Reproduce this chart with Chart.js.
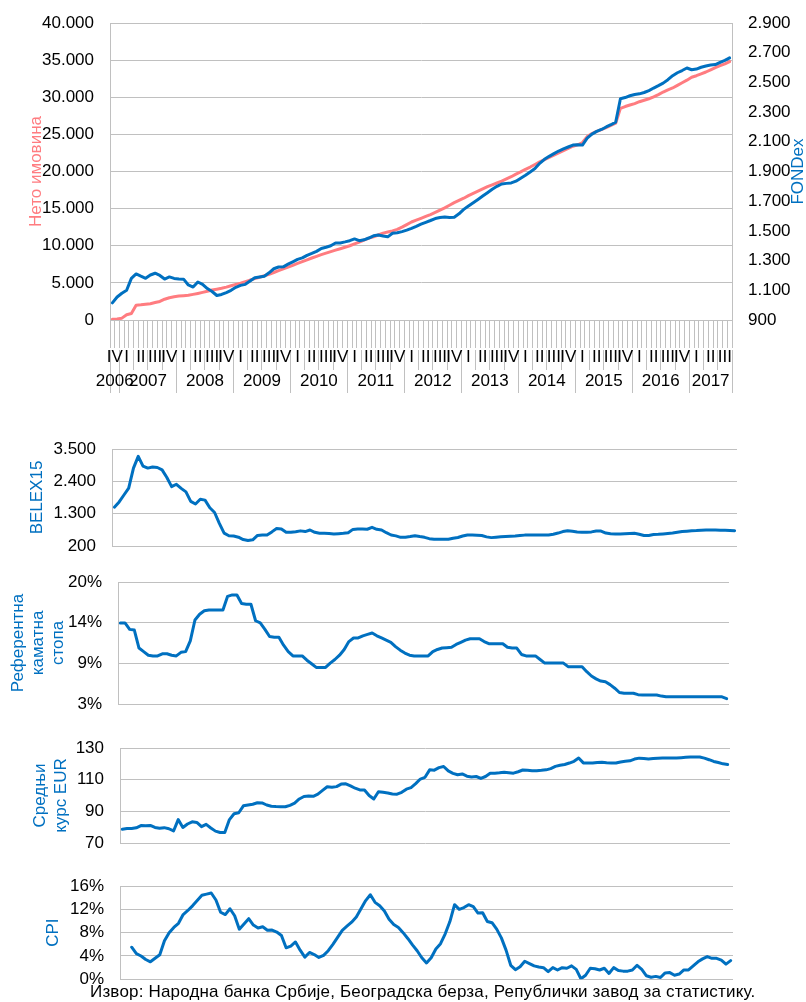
<!DOCTYPE html>
<html><head><meta charset="utf-8">
<script src="https://cdn.jsdelivr.net/npm/chart.js@4.4.1/dist/chart.umd.min.js"></script>
<style>
html,body{margin:0;padding:0;background:#fff;}
#wrap{position:relative;width:806px;height:1002px;overflow:hidden;background:#fff;}
canvas{position:absolute;left:0;}
#src{position:absolute;left:90px;top:983px;font-family:"Liberation Sans",Arial,sans-serif;font-size:17px;letter-spacing:0.18px;line-height:17px;color:#000;white-space:nowrap;}
</style></head><body>
<div id="wrap">
<canvas id="c1" width="806" height="400" style="top:0px"></canvas>
<canvas id="c2" width="806" height="140" style="top:420px"></canvas>
<canvas id="c3" width="806" height="155" style="top:565px"></canvas>
<canvas id="c4" width="806" height="135" style="top:725px"></canvas>
<canvas id="c5" width="806" height="137" style="top:865px"></canvas>
<div id="src">Извор: Народна банка Србије, Београдска берза, Републички завод за статистику.</div>
</div>
<script>
// ---------- categories ----------
const START_YEAR = 2006, START_MONTH = 11, N_MONTHS = 131;
const quarterNames = ['I','II','III','IV'];

// ---------- series (monthly, Nov 2006 – Sep 2017) ----------
const netAssets = [
100,150,250,700,880,2000,2050,2120,2200,2350,
2500,2800,3000,3120,3220,3280,3330,3450,3580,3720,
3870,4030,4150,4280,4430,4620,4800,4970,5170,5380,
5570,5760,5960,6150,6400,6650,6880,7120,7370,7620,
7870,8110,8350,8580,8800,9000,9210,9410,9600,9800,
10000,10260,10500,10760,11030,11200,11450,11700,11850,12000,
12200,12500,12850,13200,13450,13700,13950,14200,14500,14800,
15100,15450,15800,16100,16400,16750,17050,17350,17650,17950,
18200,18450,18700,19000,19300,19650,19950,20300,20600,20950,
21300,21600,21900,22200,22500,22800,23100,23400,23600,23900,
24700,25100,25400,25650,25900,26200,26500,28500,28750,28950,
29150,29400,29600,29800,30050,30350,30700,31000,31250,31600,
31950,32300,32700,32900,33150,33400,33700,34000,34250,34500,
34800];

const fondex = [
1015,1055,1080,1100,1180,1210,1195,1181,1203,1215,
1200,1176,1190,1180,1176,1175,1136,1122,1156,1140,
1112,1092,1065,1072,1085,1100,1120,1133,1140,1162,
1185,1190,1195,1218,1245,1257,1258,1276,1292,1308,
1318,1335,1348,1362,1382,1390,1400,1419,1419,1426,
1434,1446,1434,1440,1452,1467,1472,1466,1460,1484,
1488,1495,1505,1517,1530,1545,1558,1570,1583,1590,
1594,1590,1592,1615,1645,1668,1690,1712,1735,1757,
1780,1800,1816,1820,1823,1835,1855,1875,1897,1920,
1955,1982,2002,2020,2038,2052,2065,2078,2080,2078,
2125,2152,2170,2183,2200,2215,2232,2390,2398,2410,
2418,2423,2432,2445,2462,2478,2495,2518,2545,2565,
2580,2597,2585,2590,2602,2610,2617,2620,2635,2648,
2665];

const belex15 = [
1520,1700,1935,2170,2850,3250,2920,2850,2890,2870,
2790,2530,2220,2300,2160,2040,1720,1630,1790,1760,
1500,1340,970,640,550,540,500,420,385,410,
560,574,574,680,795,780,665,665,685,715,
690,744,665,632,632,625,608,620,632,652,
765,778,775,770,836,768,744,652,574,545,
495,500,520,550,520,495,450,428,428,428,
430,465,490,540,574,570,566,555,510,485,
500,512,520,530,540,555,570,574,574,574,
574,574,600,640,690,720,700,680,665,665,
680,710,710,640,620,610,608,615,625,632,
600,555,560,590,598,610,625,640,665,690,
705,720,725,735,744,744,744,740,735,730,
720];

const refRate = [
14.3,14.3,13.4,13.3,10.8,10.3,9.8,9.7,9.7,10.0,
10.0,9.8,9.7,10.2,10.3,11.8,14.7,15.5,16.0,16.1,
16.1,16.1,16.1,18.0,18.2,18.2,17.0,16.9,16.9,14.6,
14.3,13.4,12.4,12.3,12.3,11.2,10.3,9.7,9.7,9.7,
9.1,8.6,8.1,8.1,8.1,8.7,9.2,9.8,10.6,11.7,
12.2,12.2,12.5,12.7,12.9,12.5,12.2,11.9,11.6,11.0,
10.5,10.1,9.8,9.7,9.7,9.7,9.7,10.3,10.6,10.8,
10.85,10.9,11.3,11.6,11.9,12.1,12.1,12.1,11.7,11.4,
11.4,11.4,11.4,10.9,10.8,10.8,9.9,9.7,9.7,9.7,
9.2,8.7,8.7,8.7,8.7,8.7,8.2,8.2,8.2,8.2,
7.5,6.9,6.5,6.2,6.1,5.7,5.2,4.6,4.5,4.5,
4.5,4.3,4.25,4.25,4.25,4.25,4.1,4.0,4.0,4.0,
4.0,4.0,4.0,4.0,4.0,4.0,4.0,4.0,4.0,4.0,
3.75];

const eurRate = [
78.7,79.1,79.1,79.6,81.0,80.9,81.1,79.8,79.3,79.7,
79.0,77.6,84.8,79.8,82.0,83.4,83.0,80.3,81.8,79.5,
77.5,76.6,76.6,84.8,88.5,89.1,93.5,94.0,94.5,95.4,
95.3,94.0,93.2,93.0,92.9,92.9,93.8,95.2,97.8,99.4,
99.7,99.5,100.9,103.2,105.5,105.2,105.6,107.2,107.4,106.1,
104.6,103.5,103.5,100.0,97.8,102.4,102.0,101.6,101.0,100.8,
102.0,104.0,105.0,107.5,110.4,111.5,116.2,116.0,117.6,118.3,
115.5,114.0,113.1,113.6,112.2,111.7,112.0,110.8,112.0,114.1,
114.1,114.3,114.7,114.4,114.1,115.0,116.1,116.0,115.7,115.7,
115.9,116.2,117.0,118.4,119.1,119.6,120.5,121.6,123.7,120.6,
120.5,120.5,120.9,121.0,120.7,120.5,120.5,121.2,121.6,121.9,
123.0,123.6,123.3,123.0,123.3,123.6,123.7,123.7,123.7,123.7,
123.9,124.1,124.3,124.3,124.3,123.6,122.6,121.5,120.8,120.0,
119.6];

const cpi = [
null,null,5.5,4.4,4.0,3.4,3.0,3.6,4.2,6.6,
8.0,8.9,9.6,11.1,11.8,12.6,13.5,14.4,14.6,14.8,
13.6,11.5,11.1,12.1,10.9,8.6,9.5,10.4,9.3,8.8,
9.0,8.4,8.45,8.1,7.5,5.4,5.7,6.4,5.0,3.8,
4.6,4.25,3.75,4.1,4.9,6.0,7.2,8.4,9.1,9.8,
10.7,12.1,13.5,14.5,13.2,12.6,11.7,10.3,9.4,8.9,
8.0,7.0,5.9,4.9,3.7,2.8,3.7,5.2,6.1,7.8,
9.9,12.8,12.0,12.3,12.8,12.45,11.35,11.4,9.9,9.7,
8.6,7.1,5.0,2.4,1.65,2.15,3.1,2.7,2.3,2.1,
2.0,1.3,2.0,1.6,2.0,1.9,2.3,1.7,0.1,0.7,
1.9,1.8,1.6,1.9,1.0,2.0,1.5,1.4,1.4,1.6,
2.4,1.7,0.6,0.35,0.5,0.3,1.1,1.15,0.7,0.9,
1.6,1.6,2.3,3.0,3.5,3.9,3.6,3.6,3.3,2.6,
3.2];

// ---------- tick values / labels ----------
const netTicks = [0,5000,10000,15000,20000,25000,30000,35000,40000];
const fondexTicks = [900,1100,1300,1500,1700,1900,2100,2300,2500,2700,2900];
const belexTicks = [200,1300,2400,3500];
const refTicks = [3, 3+17/3, 3+34/3, 20];
const refTickLabels = ['3%','9%','14%','20%'];
const eurTicks = [70,90,110,130];
const cpiTicks = [0,4,8,12,16];
const cpiTickLabels = ['0%','4%','8%','12%','16%'];

// ---------- helpers ----------
const FONT = '"Liberation Sans", Arial, Helvetica, sans-serif';
const FS = 17;
const GRID = '#c0c0c0';
const BLUE = '#0070C0';
const PINK = '#FF7C80';
Chart.defaults.font.family = FONT;
Chart.defaults.font.size = FS;
Chart.defaults.color = '#000';

const fmt = v => String(v).replace(/\B(?=(\d{3})+(?!\d))/g, '.');

const months = [];
for (let k = 0; k < N_MONTHS; k++) {
  const m0 = START_MONTH - 1 + k;
  const y = START_YEAR + Math.floor(m0 / 12);
  const m = (m0 % 12) + 1;
  months.push(y + '-' + String(m).padStart(2, '0'));
}
function groups(keyFn) {
  const out = [];
  months.forEach((lab, i) => {
    const k = keyFn(lab);
    if (!out.length || out[out.length - 1].key !== k) out.push({key: k, first: i, last: i});
    else out[out.length - 1].last = i;
  });
  return out;
}
function groupTicks(gs, labelFn) {
  const t = [];
  gs.forEach(g => {
    t.push({v: g.first - 0.5, sep: true, lbl: ''});
    t.push({v: (g.first + g.last) / 2, sep: false, lbl: labelFn(g)});
  });
  t.push({v: N_MONTHS - 0.5, sep: true, lbl: ''});
  return t;
}
const qTicks = groupTicks(groups(l => l.slice(0, 4) + 'Q' + Math.ceil(+l.slice(5) / 3)),
                          g => quarterNames[+g.key.slice(5) - 1]);
const yTicks = groupTicks(groups(l => l.slice(0, 4)), g => g.key);

function yScale(o) {
  return {
    type: 'linear', position: o.pos || 'left', min: o.min, max: o.max,
    afterBuildTicks: s => { s.ticks = o.ticks.map(v => ({value: v})); },
    afterFit: s => { s.width = o.width; s.paddingTop = 0; s.paddingBottom = 0; },
    ticks: {autoSkip: false, padding: 16, color: '#000', font: {family: FONT, size: FS},
            callback: (v, i) => o.labels[i]},
    grid: {display: true, drawOnChartArea: o.grid !== false, drawTicks: false, color: GRID, lineWidth: 1},
    border: {display: true, color: GRID, width: 1},
    title: o.title ? {display: true, text: o.title, color: o.titleColor || BLUE,
                      font: {family: FONT, size: FS, lineHeight: o.lh || 1.2},
                      padding: {top: o.tpad, bottom: 0}} : {display: false}
  };
}
function groupAxis(list, weight, height, tl, pad) {
  return {
    type: 'linear', position: 'bottom', weight: weight, min: -0.5, max: N_MONTHS - 0.5,
    afterBuildTicks: s => { s.ticks = list.map(t => ({value: t.v, sep: t.sep, lbl: t.lbl})); },
    afterFit: s => { s.height = height; s.paddingLeft = 0; s.paddingRight = 0; },
    ticks: {autoSkip: false, maxRotation: 0, minRotation: 0, padding: pad, color: '#000',
            font: {family: FONT, size: FS}, callback: (v, i, ts) => ts[i].lbl},
    grid: {display: true, drawOnChartArea: false, drawTicks: true, tickLength: tl, lineWidth: 1,
           color: c => (c.tick && c.tick.sep) ? GRID : 'rgba(0,0,0,0)'},
    border: {display: false}
  };
}
const common = {
  responsive: false, animation: false, devicePixelRatio: 1,
  plugins: {legend: {display: false}, tooltip: {enabled: false}},
  elements: {point: {radius: 0}, line: {tension: 0, borderJoinStyle: 'round', borderCapStyle: 'round'}}
};

// right-axis title, rotated like the left titles
const rightTitle = {
  id: 'rightTitle',
  afterDraw(chart) {
    const {ctx, chartArea} = chart;
    const s = chart.scales.y2;
    ctx.save();
    ctx.font = FS + 'px ' + FONT;
    ctx.fillStyle = BLUE;
    ctx.textAlign = 'center';
    ctx.textBaseline = 'middle';
    ctx.translate(s.right - 7.5, (chartArea.top + chartArea.bottom) / 2);
    ctx.rotate(-Math.PI / 2);
    ctx.fillText('FONDex', 0, 0);
    ctx.restore();
  }
};

// ---------- panel 1 ----------
new Chart(document.getElementById('c1'), {
  type: 'line',
  data: {labels: months, datasets: [
    {label: 'FONDex', data: fondex, yAxisID: 'y2', borderColor: BLUE, borderWidth: 3, fill: false},
    {label: 'Нето имовина', data: netAssets, yAxisID: 'y', borderColor: PINK, borderWidth: 3, fill: false}
  ]},
  options: Object.assign({}, common, {
    layout: {padding: {top: 23, bottom: 0, left: 0, right: 0}},
    scales: {
      x: {type: 'category', offset: true, position: 'bottom', weight: 0,
          afterFit: s => { s.height = 30; s.paddingLeft = 0; s.paddingRight = 0; },
          ticks: {display: false, autoSkip: false},
          grid: {display: true, offset: true, drawOnChartArea: false, drawTicks: true, tickLength: 28, color: GRID, lineWidth: 1},
          border: {display: true, color: GRID, width: 1}},
      xq: groupAxis(qTicks, 1, 20, 20, -23.2),
      xy: groupAxis(yTicks, 2, 30, 23, -21.7),
      y: yScale({min: 0, max: 40000, ticks: netTicks, labels: netTicks.map(fmt), width: 110,
                 title: 'Нето имовина', titleColor: PINK, tpad: 26.3}),
      y2: yScale({pos: 'right', min: 900, max: 2900, ticks: fondexTicks, labels: fondexTicks.map(fmt),
                  width: 74, grid: false})
    }
  }),
  plugins: [rightTitle]
});

// ---------- lower panels ----------
function panel(id, data, o) {
  return new Chart(document.getElementById(id), {
    type: 'line',
    data: {labels: months, datasets: [{label: o.name, data: data, borderColor: BLUE, borderWidth: 3, fill: false, spanGaps: false}]},
    options: Object.assign({}, common, {
      layout: {padding: {top: o.top, bottom: o.bottom, left: 0, right: o.right}},
      scales: {
        x: {type: 'category', offset: true, display: false},
        y: yScale({min: o.min, max: o.max, ticks: o.ticks, labels: o.labels, width: o.width,
                   title: o.title, tpad: o.tpad, lh: o.lh})
      }
    })
  });
}
panel('c2', belex15, {name: 'BELEX15', top: 29, bottom: 14, right: 69, width: 112,
  min: 200, max: 3500, ticks: belexTicks, labels: belexTicks.map(fmt), title: 'BELEX15', tpad: 26.8});
panel('c3', refRate, {name: 'Референтна каматна стопа', top: 17, bottom: 16, right: 77, width: 118,
  min: 3, max: 20, ticks: refTicks, labels: refTickLabels, title: ['Референтна','каматна','стопа'], tpad: 7.8});
panel('c4', eurRate, {name: 'Средњи курс EUR', top: 23, bottom: 17, right: 76, width: 120,
  min: 70, max: 130, ticks: eurTicks, labels: eurTicks.map(String), title: ['Средњи','курс EUR'], tpad: 29.5, lh: 1.24});
panel('c5', cpi, {name: 'CPI', top: 21, bottom: 22.7, right: 73, width: 120,
  min: 0, max: 16, ticks: cpiTicks, labels: cpiTickLabels, title: 'CPI', tpad: 42.8});
</script>
</body></html>
